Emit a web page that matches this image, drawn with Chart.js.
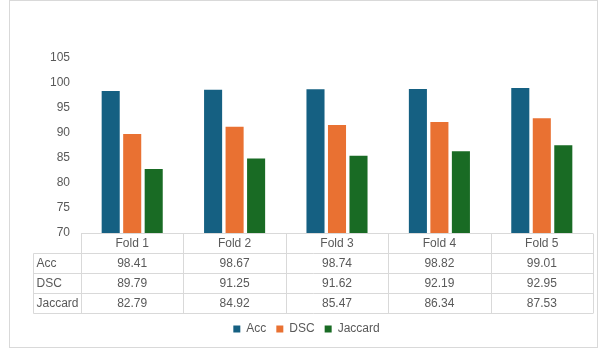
<!DOCTYPE html>
<html>
<head>
<meta charset="utf-8">
<script src="https://cdn.jsdelivr.net/npm/chart.js@4/dist/chart.umd.min.js"></script>
<style>
  html, body { margin: 0; padding: 0; background: #fff; }
</style>
</head>
<body>
<canvas id="foldChart" width="598" height="351"></canvas>
<script>
// 各Foldの評価指標
var folds = ["Fold 1", "Fold 2", "Fold 3", "Fold 4", "Fold 5"];
var accValues = [98.41, 98.67, 98.74, 98.82, 99.01];
var dscValues = [89.79, 91.25, 91.62, 92.19, 92.95];
var jaccardValues = [82.79, 84.92, 85.47, 86.34, 87.53];
var yTicks = [70, 75, 80, 85, 90, 95, 100, 105];

var textColor = '#595959';
var lineColor = '#d9d9d9';
var fontFamily = '"Liberation Sans", Arial, sans-serif';

// 外枠
var frame = {
  id: 'frame',
  beforeDraw: function(chart) {
    var ctx = chart.ctx;
    ctx.save();
    ctx.fillStyle = '#fff';
    ctx.fillRect(0, 0, chart.width, chart.height);
    ctx.strokeStyle = lineColor;
    ctx.lineWidth = 1;
    ctx.strokeRect(9.5, 0.5, 588, 347);
    ctx.restore();
  }
};

// 軸の下のデータテーブル
var dataTable = {
  id: 'dataTable',
  afterDraw: function(chart) {
    var ctx = chart.ctx;
    var area = chart.chartArea;
    var sets = chart.data.datasets;
    var n = chart.data.labels.length;
    var colW = (area.right - area.left) / n;
    var rowH = 20;
    var top = Math.round(area.bottom) + 0.5;
    var labelLeft = 33.5;
    var bottom = top + rowH * (sets.length + 1);

    ctx.save();
    ctx.strokeStyle = lineColor;
    ctx.lineWidth = 1;
    ctx.beginPath();
    ctx.moveTo(area.left, top);
    ctx.lineTo(area.right, top);
    for (var r = 1; r <= sets.length + 1; r++) {
      ctx.moveTo(labelLeft, top + rowH * r);
      ctx.lineTo(area.right, top + rowH * r);
    }
    ctx.moveTo(labelLeft, top + rowH);
    ctx.lineTo(labelLeft, bottom);
    for (var c = 0; c <= n; c++) {
      var lx = Math.round(area.left + colW * c) + 0.5;
      ctx.moveTo(lx, top);
      ctx.lineTo(lx, bottom);
    }
    ctx.stroke();

    ctx.fillStyle = textColor;
    ctx.font = '12px ' + fontFamily;
    ctx.textBaseline = 'middle';
    ctx.textAlign = 'center';
    for (var i = 0; i < n; i++) {
      var cx = area.left + colW * (i + 0.5);
      ctx.fillText(chart.data.labels[i], cx, top + rowH / 2);
      for (var s = 0; s < sets.length; s++) {
        ctx.fillText(sets[s].data[i].toFixed(2), cx, top + rowH * (s + 1.5));
      }
    }
    ctx.textAlign = 'left';
    for (var k = 0; k < sets.length; k++) {
      ctx.fillText(sets[k].label, labelLeft + 3, top + rowH * (k + 1.5));
    }
    ctx.restore();
  }
};

var ctx = document.getElementById("foldChart");
var foldChart = new Chart(ctx, {
  type: 'bar',
  data: {
    labels: folds,
    datasets: [
      { label: 'Acc', data: accValues, backgroundColor: '#156082' },
      { label: 'DSC', data: dscValues, backgroundColor: '#E97132' },
      { label: 'Jaccard', data: jaccardValues, backgroundColor: '#196B24' }
    ]
  },
  options: {
    responsive: false,
    animation: false,
    categoryPercentage: 0.63,
    barPercentage: 0.84,
    layout: {
      padding: { top: 58, left: 20, right: 5, bottom: 6 }
    },
    scales: {
      x: {
        grid: { display: false },
        border: { display: false },
        ticks: { display: false },
        afterFit: function(scale) { scale.height = 80; }
      },
      y: {
        min: 70,
        max: 105,
        grid: { display: false, drawTicks: false },
        border: { display: false },
        afterBuildTicks: function(scale) {
          scale.ticks = yTicks.map(function(v) { return { value: v }; });
        },
        ticks: {
          color: textColor,
          padding: 11,
          font: { size: 12, family: fontFamily }
        },
        afterFit: function(scale) { scale.width = 61; }
      }
    },
    plugins: {
      legend: {
        position: 'bottom',
        labels: {
          color: textColor,
          boxWidth: 7,
          boxHeight: 7,
          padding: 10,
          font: { size: 12, family: fontFamily }
        }
      },
      tooltip: { enabled: false }
    }
  },
  plugins: [frame, dataTable]
});
</script>
</body>
</html>
